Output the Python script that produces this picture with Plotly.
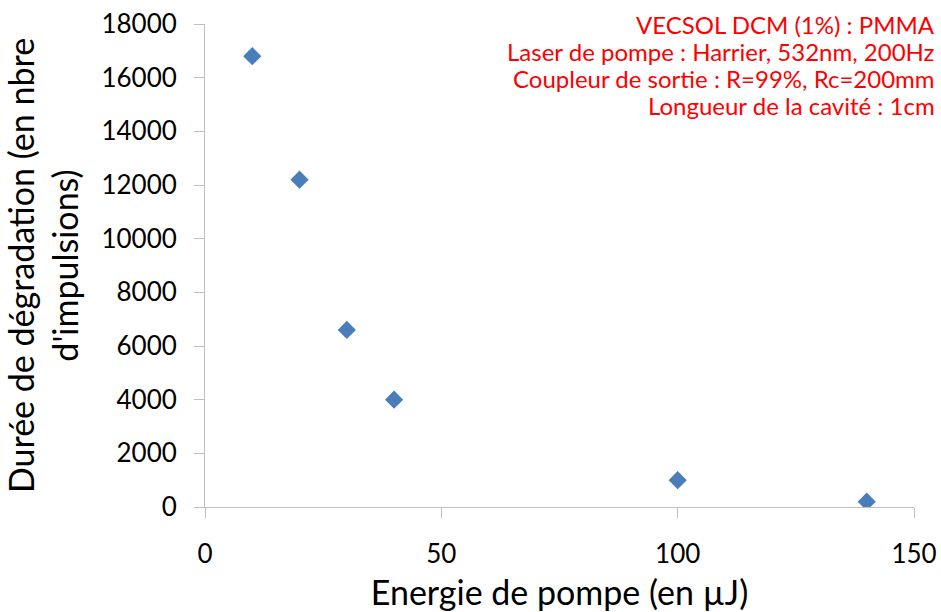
import plotly.graph_objects as go

# data
energie = [10, 20, 30, 40, 100, 140]
duree = [16800, 12200, 6600, 4000, 1000, 200]

info_lines = [
    "VECSOL DCM (1%) : PMMA",
    "Laser de pompe : Harrier, 532nm, 200Hz",
    "Coupleur de sortie : R=99%, Rc=200mm",
    "Longueur de la cavité : 1cm",
]

fig = go.Figure()

fig.add_trace(
    go.Scatter(
        x=energie,
        y=duree,
        mode="markers",
        marker=dict(symbol="diamond", size=14, color="#4A7EBB"),
        showlegend=False,
    )
)

axis_style = dict(
    showgrid=False,
    zeroline=False,
    showline=True,
    linecolor="#BFBFBF",
    linewidth=1,
    ticks="outside",
    ticklen=10,
    tickcolor="#BFBFBF",
    tickfont=dict(size=26, color="black"),
    automargin=False,
)

fig.update_xaxes(
    range=[0, 150],
    tickvals=[0, 50, 100, 150],
    title=dict(text="Energie de pompe (en µJ)", font=dict(size=34, color="black"), standoff=14),
    ticklabelstandoff=14,
    **axis_style
)

fig.update_yaxes(
    range=[0, 18000],
    dtick=2000,
    tickformat="d",
    title=dict(
        text="Durée de dégradation (en nbre<br>d'impulsions)",
        font=dict(size=34, color="black"),
        standoff=14,
    ),
    ticklabelstandoff=12,
    **axis_style
)

# notes in the top right corner, one line at a time
for i, line in enumerate(info_lines):
    fig.add_annotation(
        text=line,
        xref="paper",
        yref="paper",
        x=1.033,
        y=1.0 - i * 0.056,
        xanchor="right",
        yanchor="middle",
        showarrow=False,
        font=dict(size=24, color="#FF0000"),
    )

fig.update_layout(
    width=941,
    height=612,
    margin=dict(l=205, r=27, t=24, b=105),
    paper_bgcolor="white",
    plot_bgcolor="white",
    font=dict(family="Lato, Open Sans, sans-serif"),
)

# drop the default page margin so the figure sits at the window corner
fig.write_html(
    "out.html",
    config={"displayModeBar": False},
    post_script="document.body.style.margin='0';",
)
